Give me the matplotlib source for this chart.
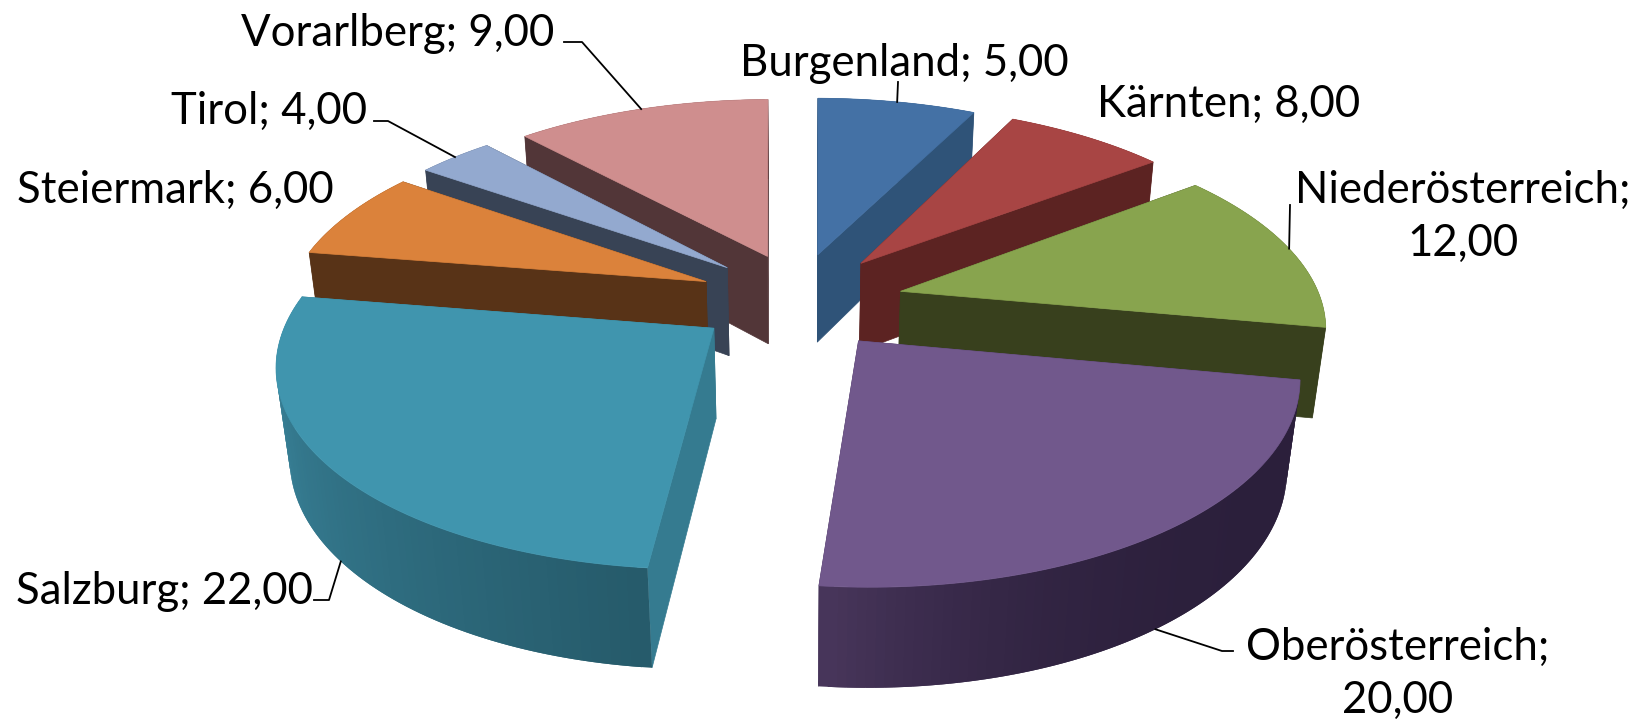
import matplotlib
matplotlib.use('Agg')
import matplotlib.pyplot as plt
from matplotlib.collections import PolyCollection
from matplotlib.colors import to_rgb
import numpy as np

names = ['Burgenland', 'Kärnten', 'Niederösterreich', 'Oberösterreich', 'Salzburg', 'Steiermark', 'Tirol', 'Vorarlberg']
values = [5, 8, 12, 20, 22, 6, 4, 9]

# styles
top_colors = ['#4471A5', '#A84544', '#88A44E', '#71588C', '#4095AE', '#DB823B', '#93A9CF', '#CF8E8E']
side_colors = ['#2F5378', '#5C2322', '#38401D', '#47355A', '#357B90', '#583317', '#384355', '#523638']
wall_start = ['#2F5378', '#5C2322', '#38401D', '#2B1F3B', '#265B6B', '#583317', '#384355', '#523638']
wall_end = ['#2F5378', '#5C2322', '#38401D', '#47355A', '#3D8BA3', '#583317', '#384355', '#523638']
wall_gamma = [1, 1, 1, 4, 1, 1, 1, 1]

# label layout, in pixels
label_pos = [(904, 63), (1229, 104), (1463, 217), (1398, 674), (164, 592), (175, 190), (269, 111), (398, 34)]
two_lines = [2, 3]
leader_bends = {0: [(898, 82)], 2: [(1290, 205)], 3: [(1233, 651), (1222, 651)], 4: [(314, 600), (329, 600)],
                6: [(374, 121), (388, 121)], 7: [(564, 42), (582, 42)]}
leader_on_wall = [3, 4]

# 3d view of the pie, fitted to the picture
cx, cy = 799.7, 299.9
scale_x, scale_y, depth = 420.3, 193.8, 91.65
persp_y, persp_z = 0.1555, 0.0255
explode = 0.2456
view_shift = [0.42, 5.37, -1.72, -4.09, -2.73, -1.34, -0.34, -4.67, -0.61]

cum = np.concatenate([[0], np.cumsum(values)]) / sum(values) * 2 * np.pi


def project(i, r, phi, z=0.0):
    t = phi + np.interp(phi, cum, np.radians(view_shift))
    m = (cum[i] + cum[i + 1]) / 2
    u = explode * np.sin(m) + r * np.sin(t)
    v = -explode * np.cos(m) - r * np.cos(t)
    w = 1 - persp_y * v + persp_z * z
    return cx + scale_x * u / w, cy + (scale_y * v + depth * z) / w


fig = plt.figure(figsize=(16.52, 7.22), dpi=100)
ax = fig.add_axes([0, 0, 1, 1])
ax.set_xlim(0, 1652)
ax.set_ylim(722, 0)
ax.axis('off')

# back slices first so the front ones cover them
for i in [7, 6, 5, 0, 1, 2, 4, 3]:
    apex = project(i, 0, 0)
    apex_low = project(i, 0, 0, 1.0)
    for phi in (cum[i], cum[i + 1]):
        face = [apex, project(i, 1, phi), project(i, 1, phi, 1.0), apex_low]
        ax.fill(*zip(*face), color=side_colors[i], lw=0.5)
    t = np.linspace(cum[i], cum[i + 1], 80)
    # quads overlap the next one, this hides the seams of the gradient
    if t[0] < np.pi:
        order = range(78)
    else:
        order = range(77, -1, -1)
    c0, c1 = np.array(to_rgb(wall_start[i])), np.array(to_rgb(wall_end[i]))
    quads = []
    cols = []
    for k in order:
        quads.append([project(i, 1, t[k]), project(i, 1, t[k + 2]), project(i, 1, t[k + 2], 1.0), project(i, 1, t[k], 1.0)])
        f = (k / 77) ** wall_gamma[i]
        cols.append(c0 * (1 - f) + c1 * f)
    ax.add_collection(PolyCollection(quads, facecolors=cols, edgecolors='none'))
    outline = [apex] + [project(i, 1, a) for a in t]
    ax.fill(*zip(*outline), color=top_colors[i], lw=0.5)

for i, bends in leader_bends.items():
    m = (cum[i] + cum[i + 1]) / 2
    end = project(i, 1, m, 1.0 if i in leader_on_wall else 0.0)
    xs, ys = zip(*(bends + [end]))
    ax.plot(xs, ys, color='k', lw=1.3, zorder=4)

for i in range(8):
    num = ('%.2f' % values[i]).replace('.', ',')
    sep = ';\n' if i in two_lines else '; '
    ax.text(label_pos[i][0], label_pos[i][1], names[i] + sep + num, family='Lato', fontsize=31.5,
            ha='center', va='center', color='k', linespacing=1.39, zorder=5)

fig.savefig('out.png')
